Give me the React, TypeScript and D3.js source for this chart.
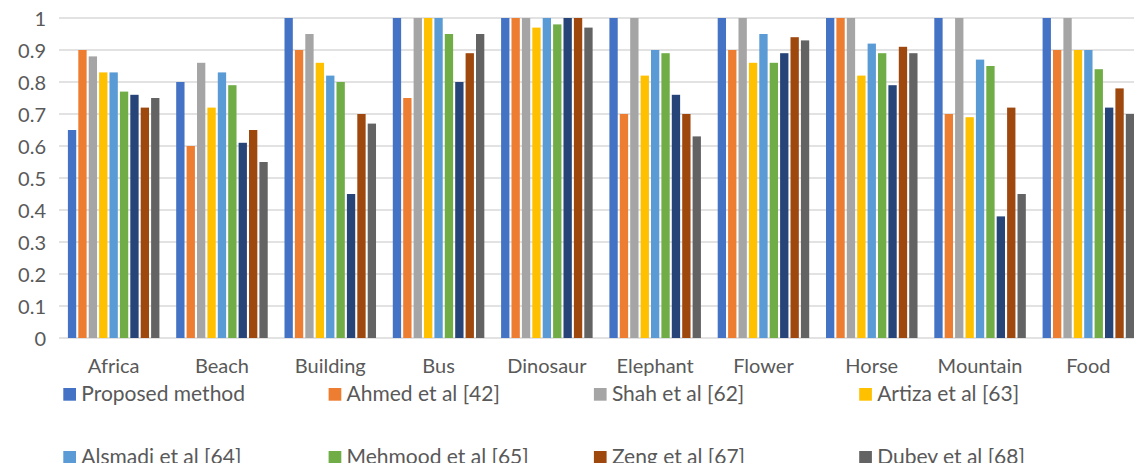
import React from "react";
import * as d3 from "d3";

const categories = ["Africa", "Beach", "Building", "Bus", "Dinosaur", "Elephant", "Flower", "Horse", "Mountain", "Food"];

const seriesNames = [
  "Proposed method",
  "Ahmed et al [42]",
  "Shah et al [62]",
  "Artiza et al [63]",
  "Alsmadi et al [64]",
  "Mehmood et al [65]",
  "Series 7",
  "Zeng et al [67]",
  "Dubey et al [68]",
];

const seriesColors = ["#4472C4", "#ED7D31", "#A5A5A5", "#FFC000", "#5B9BD5", "#70AD47", "#264478", "#9E480E", "#636363"];

const proposed = [0.65, 0.8, 1.0, 1.0, 1.0, 1.0, 1.0, 1.0, 1.0, 1.0];
const ahmed = [0.9, 0.6, 0.9, 0.75, 1.0, 0.7, 0.9, 1.0, 0.7, 0.9];
const shah = [0.88, 0.86, 0.95, 1.0, 1.0, 1.0, 1.0, 1.0, 1.0, 1.0];
const artiza = [0.83, 0.72, 0.86, 1.0, 0.97, 0.82, 0.86, 0.82, 0.69, 0.9];
const alsmadi = [0.83, 0.83, 0.82, 1.0, 1.0, 0.9, 0.95, 0.92, 0.87, 0.9];
const mehmood = [0.77, 0.79, 0.8, 0.95, 0.98, 0.89, 0.86, 0.89, 0.85, 0.84];
const series7 = [0.76, 0.61, 0.45, 0.8, 1.0, 0.76, 0.89, 0.79, 0.38, 0.72];
const zeng = [0.72, 0.65, 0.7, 0.89, 1.0, 0.7, 0.94, 0.91, 0.72, 0.78];
const dubey = [0.75, 0.55, 0.67, 0.95, 0.97, 0.63, 0.93, 0.89, 0.45, 0.7];

const seriesValues = [proposed, ahmed, shah, artiza, alsmadi, mehmood, series7, zeng, dubey];

const legendItems = [0, 1, 2, 3, 4, 5, 7, 8];

const yTicks = [0, 0.1, 0.2, 0.3, 0.4, 0.5, 0.6, 0.7, 0.8, 0.9, 1];

const W = 1134;
const H = 463;
const FONT = "Lato, 'Liberation Sans', sans-serif";
const TEXT = "#595959";

export default function App() {
  const x0 = d3.scaleBand<string>().domain(categories).range([59.5, 59.5 + 108.3 * 10]).padding(0);
  const x1 = d3
    .scaleBand<string>()
    .domain(seriesNames)
    .range([8.4, 8.4 + 10.4 * 8.8])
    .paddingInner(0.2)
    .paddingOuter(0);
  const y = d3.scaleLinear().domain([0, 1]).range([338, 18]);

  return (
    <svg
      width={W}
      height={H}
      style={{ position: "absolute", left: 0, top: 0, background: "#fff" }}
      fontFamily={FONT}
    >
      <rect x={0} y={0} width={W} height={H} fill="#fff" />
      {yTicks.map((t) => (
        <g key={t}>
          <line x1={59} x2={W} y1={y(t)} y2={y(t)} stroke="#D9D9D9" strokeWidth={1.3} />
          <text x={46} y={y(t) + 7.5} textAnchor="end" fontSize={20} fill={TEXT}>
            {d3.format("~g")(t)}
          </text>
        </g>
      ))}
      {categories.map((c, ci) => (
        <g key={c} transform={`translate(${x0(c)},0)`}>
          {seriesNames.map((s, si) => {
            const v = seriesValues[si][ci];
            return (
              <rect
                key={s}
                x={x1(s)}
                y={y(v)}
                width={x1.bandwidth()}
                height={y(0) - y(v)}
                fill={seriesColors[si]}
              />
            );
          })}
          <text x={x0.bandwidth() / 2} y={373} textAnchor="middle" fontSize={20} fill={TEXT}>
            {c}
          </text>
        </g>
      ))}
      {legendItems.map((si, i) => {
        const col = i % 4;
        const row = Math.floor(i / 4);
        const lx = 63.3 + col * 265.3;
        const ly = 388 + row * 63;
        return (
          <g key={si} transform={`translate(${lx},${ly})`}>
            <rect x={0} y={0} width={12.7} height={12.7} fill={seriesColors[si]} />
            <text x={18} y={13} fontSize={21} fill={TEXT}>
              {seriesNames[si]}
            </text>
          </g>
        );
      })}
    </svg>
  );
}
